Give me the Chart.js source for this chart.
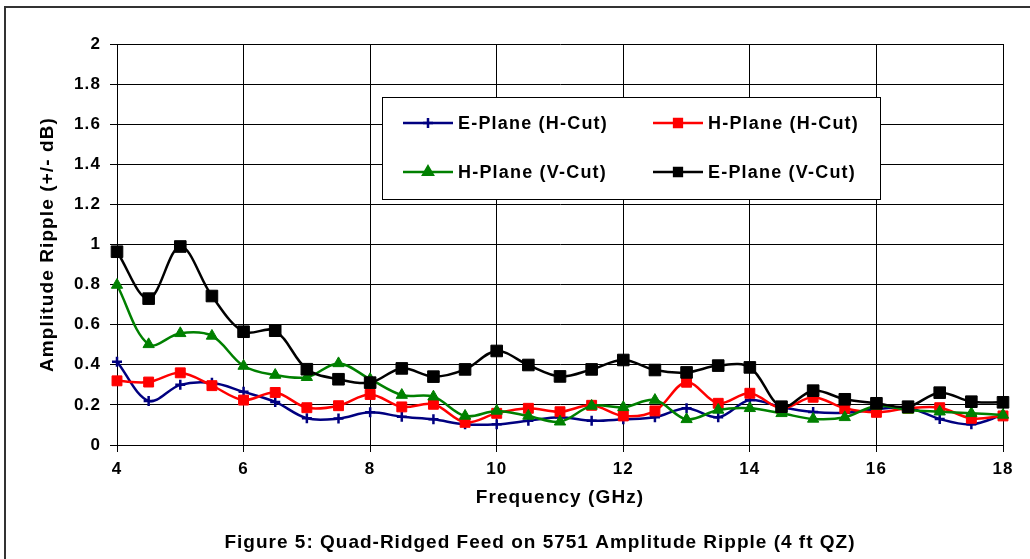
<!DOCTYPE html>
<html><head><meta charset="utf-8">
<script src="https://cdn.jsdelivr.net/npm/chart.js@4"></script>
<style>html,body{margin:0;padding:0;background:#fff;}canvas{display:block;}</style>
</head><body>
<canvas id="c" width="1030" height="559"></canvas>
<script>
const frequencies = [4,4.5,5,5.5,6,6.5,7,7.5,8,8.5,9,9.5,10,10.5,11,11.5,12,12.5,13,13.5,14,14.5,15,15.5,16,16.5,17,17.5,18];
const ePlaneHCut = [0.415,0.22,0.30,0.31,0.265,0.215,0.133,0.132,0.163,0.141,0.128,0.103,0.103,0.121,0.138,0.121,0.128,0.138,0.183,0.138,0.224,0.188,0.165,0.161,0.178,0.186,0.13,0.103,0.15];
const hPlaneHCut = [0.32,0.314,0.36,0.296,0.224,0.262,0.186,0.196,0.252,0.19,0.203,0.113,0.158,0.183,0.166,0.198,0.145,0.17,0.313,0.208,0.258,0.183,0.238,0.183,0.163,0.183,0.186,0.133,0.145];
const hPlaneVCut = [0.798,0.502,0.557,0.544,0.394,0.349,0.338,0.407,0.328,0.249,0.241,0.145,0.17,0.145,0.116,0.195,0.188,0.224,0.128,0.175,0.183,0.158,0.13,0.138,0.195,0.175,0.166,0.158,0.15];
const ePlaneVCut = [0.964,0.73,0.99,0.743,0.565,0.57,0.378,0.328,0.311,0.382,0.341,0.377,0.469,0.399,0.342,0.377,0.424,0.374,0.362,0.396,0.387,0.191,0.271,0.228,0.208,0.191,0.261,0.216,0.213];
const seriesNames = ['E-Plane (H-Cut)','H-Plane (H-Cut)','H-Plane (V-Cut)','E-Plane (V-Cut)'];
const xTitle = 'Frequency (GHz)';
const yTitle = 'Amplitude Ripple (+/- dB)';
const caption = 'Figure 5: Quad-Ridged Feed on 5751 Amplitude Ripple (4 ft QZ)';

const FONT = '"Liberation Sans", Arial, sans-serif';
const SPACING = '1.1px';
const pts = arr => arr.map((v,i) => ({x: frequencies[i], y: v}));

function ds(label, data, color, style, radius, order, bw) {
  return {label, data: pts(data), borderColor: color, backgroundColor: color,
    pointStyle: style, pointRadius: radius, pointHoverRadius: radius,
    pointBorderWidth: bw, pointBackgroundColor: color, pointBorderColor: color,
    borderWidth: 2.5, tension: 0.35, fill: false, order, clip: false};
}

const datasets = [
  ds(seriesNames[0], ePlaneHCut, '#000080', 'cross', 5, 3, 2.5),
  ds(seriesNames[1], hPlaneHCut, '#ff0000', 'rect', 7, 2, 1),
  ds(seriesNames[2], hPlaneVCut, '#008000', 'triangle', 6.5, 1, 1),
  ds(seriesNames[3], ePlaneVCut, '#000000', 'rect', 8.2, 0, 1)
];

const spacing = {
  id: 'spacing',
  beforeInit(chart) { chart.ctx.letterSpacing = SPACING; },
  beforeUpdate(chart) { chart.ctx.letterSpacing = SPACING; },
  beforeDraw(chart) { chart.ctx.letterSpacing = SPACING; }
};

const frame = {
  id: 'frame',
  beforeDraw(chart) {
    const ctx = chart.ctx;
    ctx.save();
    ctx.fillStyle = '#fff';
    ctx.fillRect(0, 0, chart.width, chart.height);
    ctx.strokeStyle = '#333';
    ctx.lineWidth = 2;
    ctx.strokeRect(5, 7, chart.width + 10, chart.height + 10);
    ctx.restore();
  },
  afterDraw(chart) {
    const ctx = chart.ctx;
    ctx.save();
    ctx.fillStyle = '#000';
    ctx.letterSpacing = '1px';
    ctx.font = 'bold 19px ' + FONT;
    ctx.textAlign = 'center';
    ctx.textBaseline = 'middle';
    ctx.fillText(caption, 540, 543);
    ctx.restore();
  }
};

const legendBox = {
  id: 'legendBox',
  afterDraw(chart) {
    const ctx = chart.ctx;
    const bx = 382, by = 97, bw = 498, bh = 102;
    ctx.save();
    ctx.fillStyle = '#fff';
    ctx.fillRect(bx, by, bw, bh);
    ctx.strokeStyle = '#000';
    ctx.lineWidth = 1;
    ctx.strokeRect(bx + 0.5, by + 0.5, bw, bh);
    const pos = [[403, 123], [653, 123], [403, 172], [653, 172]];
    chart.data.datasets.forEach((d, i) => {
      const [x, y] = pos[i];
      ctx.strokeStyle = d.borderColor;
      ctx.lineWidth = 2.5;
      ctx.beginPath(); ctx.moveTo(x, y); ctx.lineTo(x + 50, y); ctx.stroke();
      ctx.fillStyle = d.borderColor;
      const r = d.pointStyle === 'cross' ? 5 : 5.5;
      Chart.helpers.drawPoint(ctx, {pointStyle: d.pointStyle, radius: r, borderWidth: d.pointStyle === 'cross' ? 2.5 : 1}, x + 25, y);
      if (d.pointStyle !== 'cross') ctx.fill();
      ctx.fillStyle = '#000';
      ctx.letterSpacing = '1.2px';
      ctx.font = 'bold 18px ' + FONT;
      ctx.textBaseline = 'middle';
      ctx.textAlign = 'left';
      ctx.fillText(d.label, x + 55, y + 1);
    });
    ctx.restore();
  }
};

new Chart(document.getElementById('c'), {
  type: 'line',
  data: {datasets},
  options: {
    responsive: false,
    animation: false,
    devicePixelRatio: 1,
    layout: {padding: {left: 4, top: 44, right: 27, bottom: 0}},
    plugins: {
      legend: {display: false},
      tooltip: {enabled: false},
      title: {display: false}
    },
    scales: {
      x: {
        type: 'linear', min: 4, max: 18,
        afterFit(s) { s.height = 114; },
        ticks: {stepSize: 2, color: '#000', padding: 7, font: {family: FONT, size: 17, weight: 'bold'}, maxRotation: 0},
        grid: {color: '#000', lineWidth: 1, tickLength: 7, drawTicks: true},
        border: {color: '#000', width: 1},
        title: {display: true, text: xTitle, color: '#000', font: {family: FONT, size: 19, weight: 'bold', lineHeight: 1.2}, padding: {top: 0, bottom: 50}}
      },
      y: {
        min: 0, max: 2,
        afterFit(s) { s.width = 113; },
        ticks: {stepSize: 0.2, color: '#000', padding: 9, font: {family: FONT, size: 17, weight: 'bold'},
          callback: v => String(Math.round(v * 10) / 10)},
        grid: {color: '#000', lineWidth: 1, tickLength: 7, drawTicks: true},
        border: {color: '#000', width: 1},
        title: {display: true, text: yTitle, color: '#000', font: {family: FONT, size: 19, weight: 'bold', lineHeight: 1.2}, padding: {top: 32, bottom: 0}}
      }
    }
  },
  plugins: [spacing, frame, legendBox]
});
</script>
</body></html>
